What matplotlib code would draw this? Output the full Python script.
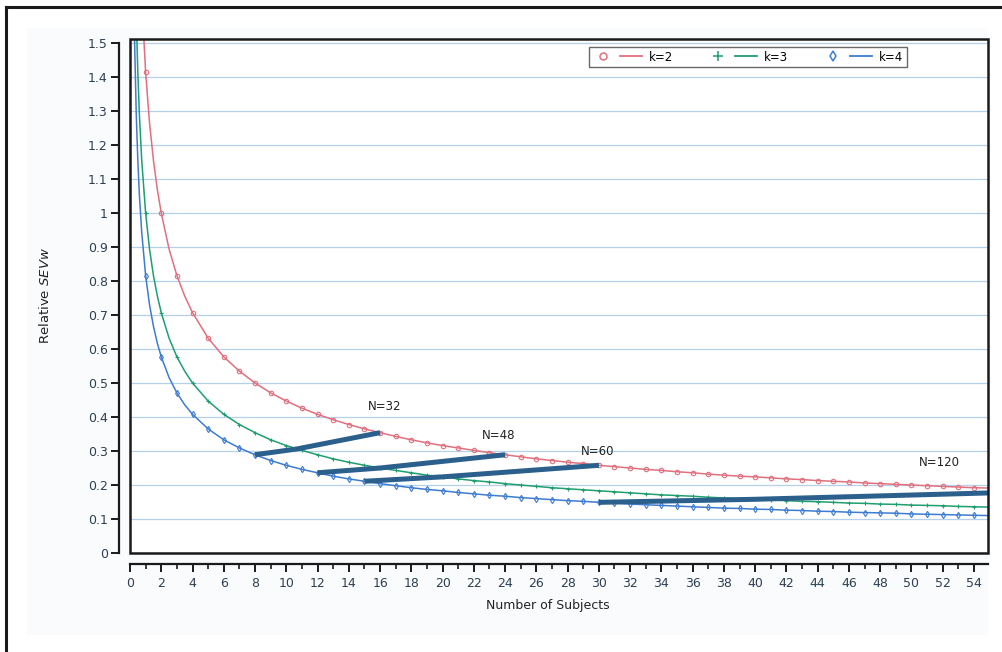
#!/usr/bin/env python3
"""
Relative SEVw vs number of subjects for k=2,3,4 with iso-N lines
"""
import matplotlib
matplotlib.use('Agg')
import matplotlib.pyplot as plt
from matplotlib.lines import Line2D
from matplotlib.legend_handler import HandlerTuple
from matplotlib.ticker import MultipleLocator, FuncFormatter
from matplotlib.patches import Rectangle

plt.rcParams['font.family'] = 'DejaVu Sans'

# marker positions (integer number of subjects)
SUBJECTS = list(range(1, 56))
SEV_K2 = [1.414, 1.000, 0.816, 0.707, 0.632, 0.577, 0.535, 0.500, 0.471, 0.447,
          0.426, 0.408, 0.392, 0.378, 0.365, 0.354, 0.343, 0.333, 0.324, 0.316,
          0.309, 0.302, 0.295, 0.289, 0.283, 0.277, 0.272, 0.267, 0.263, 0.258,
          0.254, 0.250, 0.246, 0.243, 0.239, 0.236, 0.232, 0.229, 0.226, 0.224,
          0.221, 0.218, 0.216, 0.213, 0.211, 0.209, 0.206, 0.204, 0.202, 0.200,
          0.198, 0.196, 0.194, 0.192, 0.191]
SEV_K3 = [1.000, 0.707, 0.577, 0.500, 0.447, 0.408, 0.378, 0.354, 0.333, 0.316,
          0.302, 0.289, 0.277, 0.267, 0.258, 0.250, 0.243, 0.236, 0.229, 0.224,
          0.218, 0.213, 0.209, 0.204, 0.200, 0.196, 0.192, 0.189, 0.186, 0.183,
          0.180, 0.177, 0.174, 0.171, 0.169, 0.167, 0.164, 0.162, 0.160, 0.158,
          0.156, 0.154, 0.152, 0.151, 0.149, 0.147, 0.146, 0.144, 0.143, 0.141,
          0.140, 0.139, 0.137, 0.136, 0.135]
SEV_K4 = [0.816, 0.577, 0.471, 0.408, 0.365, 0.333, 0.309, 0.289, 0.272, 0.258,
          0.246, 0.236, 0.226, 0.218, 0.211, 0.204, 0.198, 0.192, 0.187, 0.183,
          0.178, 0.174, 0.170, 0.167, 0.163, 0.160, 0.157, 0.154, 0.152, 0.149,
          0.147, 0.144, 0.142, 0.140, 0.138, 0.136, 0.134, 0.132, 0.131, 0.129,
          0.128, 0.126, 0.125, 0.123, 0.122, 0.120, 0.119, 0.118, 0.117, 0.115,
          0.114, 0.113, 0.112, 0.111, 0.110]

# extra points on the steep part of the curves (line only)
FINE_X = [0.2, 0.25, 0.3, 0.4, 0.5, 0.6, 0.75, 1.25, 1.5, 1.75, 2.5, 3.5]
FINE_K2 = [3.162, 2.828, 2.582, 2.236, 2.000, 1.826, 1.633, 1.265, 1.155, 1.069, 0.894, 0.756]
FINE_K3 = [2.236, 2.000, 1.826, 1.581, 1.414, 1.291, 1.155, 0.894, 0.816, 0.756, 0.632, 0.535]
FINE_K4 = [1.826, 1.633, 1.491, 1.291, 1.155, 1.054, 0.943, 0.730, 0.667, 0.617, 0.516, 0.436]

# iso total-N lines (k=4, k=3, k=2 points)
ISO_LABELS = ['N=32', 'N=48', 'N=60', 'N=120']
ISO_X = [[8, 10.67, 16], [12, 16, 24], [15, 20, 30], [30, 40, 60]]
ISO_Y = [[0.289, 0.306, 0.354], [0.236, 0.250, 0.289], [0.211, 0.224, 0.258], [0.149, 0.158, 0.183]]
ISO_TEXT_POS = [(16.3, 0.43), (23.6, 0.347), (29.9, 0.300), (51.8, 0.265)]

COLORS = {'k2': '#e0707e', 'k3': '#1f9e6e', 'k4': '#3d7cd0', 'iso': '#2b5f8c',
          'grid': '#b5d0ea', 'text': '#2e3f52'}


def merged(xs_a, ys_a, xs_b, ys_b):
    pts = sorted(zip(list(xs_a) + list(xs_b), list(ys_a) + list(ys_b)))
    return [p[0] for p in pts], [p[1] for p in pts]


fig = plt.figure(figsize=(10.02, 6.52), dpi=100)
fig.patch.set_facecolor('white')

# faint panel + outer frame lines (top and left)
fig.patches.append(Rectangle((27 / 1002, 1 - 635 / 652), (988 - 27) / 1002, (635 - 28) / 652,
                             transform=fig.transFigure, facecolor='#f9fbfd', edgecolor='none', zorder=-5))
fig.add_artist(Line2D([6 / 1002, 1], [1 - 7 / 652, 1 - 7 / 652], transform=fig.transFigure,
                      color='#1a1a1a', lw=2.2))
fig.add_artist(Line2D([6 / 1002, 6 / 1002], [0, 1 - 7 / 652], transform=fig.transFigure,
                      color='#1a1a1a', lw=2.2))

ax = fig.add_axes([130 / 1002, 1 - 553 / 652, (988 - 130) / 1002, (553 - 39) / 652])
ax.set_facecolor('white')

series = [('k2', SEV_K2, FINE_K2, 'o', 'k=2', 5),
          ('k3', SEV_K3, FINE_K3, '+', 'k=3', 7),
          ('k4', SEV_K4, FINE_K4, 'd', 'k=4', 5.5)]
handles = []
for key, vals, fine, mk, lab, lsize in series:
    lx, ly = merged(SUBJECTS, vals, FINE_X, fine)
    ax.plot(lx, ly, color=COLORS[key], lw=1.1, zorder=3)
    ax.plot(SUBJECTS, vals, linestyle='none', marker=mk, markersize=3.2,
            markerfacecolor='none', markeredgecolor=COLORS[key], markeredgewidth=0.8, zorder=3)
    m = Line2D([], [], linestyle='none', marker=mk, markersize=lsize, markerfacecolor='none',
               markeredgecolor=COLORS[key], markeredgewidth=1.1)
    ln = Line2D([], [], color=COLORS[key], lw=1.3)
    handles.append(((m, ln), lab))

for lab, xs, ys, (tx, ty) in zip(ISO_LABELS, ISO_X, ISO_Y, ISO_TEXT_POS):
    ax.plot(xs, ys, color=COLORS['iso'], lw=3.6, solid_capstyle='butt', zorder=4)
    ax.text(tx, ty, lab, ha='center', va='center', fontsize=8.5, color='#222222', zorder=5)

ax.set_xlim(0, 54.9)
ax.set_ylim(0, 1.512)

# horizontal grid
ax.yaxis.set_major_locator(MultipleLocator(0.1))
ax.grid(axis='y', color=COLORS['grid'], lw=0.9, zorder=0)
ax.set_axisbelow(True)

# frame box and detached axes
ax.add_patch(Rectangle((0, 0), 1, 1, transform=ax.transAxes, fill=False,
                       edgecolor='#1a1a1a', lw=1.8, clip_on=False, zorder=6))
for s in ['top', 'right']:
    ax.spines[s].set_visible(False)
ax.spines['left'].set_position(('outward', 8))
ax.spines['bottom'].set_position(('outward', 8))
ax.spines['left'].set_bounds(0, 1.5)
for s in ['left', 'bottom']:
    ax.spines[s].set_linewidth(1.6)
    ax.spines[s].set_color('#1a1a1a')

ax.xaxis.set_major_locator(MultipleLocator(2))
ax.xaxis.set_minor_locator(MultipleLocator(1))
ax.yaxis.set_major_formatter(FuncFormatter(lambda v, p: '%g' % round(v, 1)))
ax.tick_params(axis='both', which='major', direction='out', length=6, width=1.4,
               color='#1a1a1a', labelsize=9, labelcolor=COLORS['text'])
ax.tick_params(axis='x', which='minor', direction='out', length=3.5, width=1.2, color='#1a1a1a')
ax.tick_params(axis='y', which='major', pad=2)
ax.tick_params(axis='x', which='major', pad=3)

fig.text(548 / 1002, 1 - 606 / 652, 'Number of Subjects', ha='center', va='center',
         fontsize=9, color='#222222')
fig.text(45 / 1002, 1 - 296 / 652, r'Relative $\mathit{SEVw}$', ha='center', va='center',
         rotation=90, fontsize=9.5, color='#222222')

leg = ax.legend([h for h, _ in handles], [l for _, l in handles],
                handler_map={tuple: HandlerTuple(ndivide=None, pad=0.5)},
                ncol=3, loc='upper right', bbox_to_anchor=(907 / 1002, 1 - 47 / 652),
                bbox_transform=fig.transFigure, frameon=True, fancybox=False,
                fontsize=8.5, handlelength=4.2, handletextpad=0.6, columnspacing=2.9,
                borderpad=0.3, borderaxespad=0)
leg.get_frame().set_edgecolor('#444444')
leg.get_frame().set_linewidth(1.0)
leg.set_zorder(7)

plt.savefig('out.png', dpi=100)
plt.close()
